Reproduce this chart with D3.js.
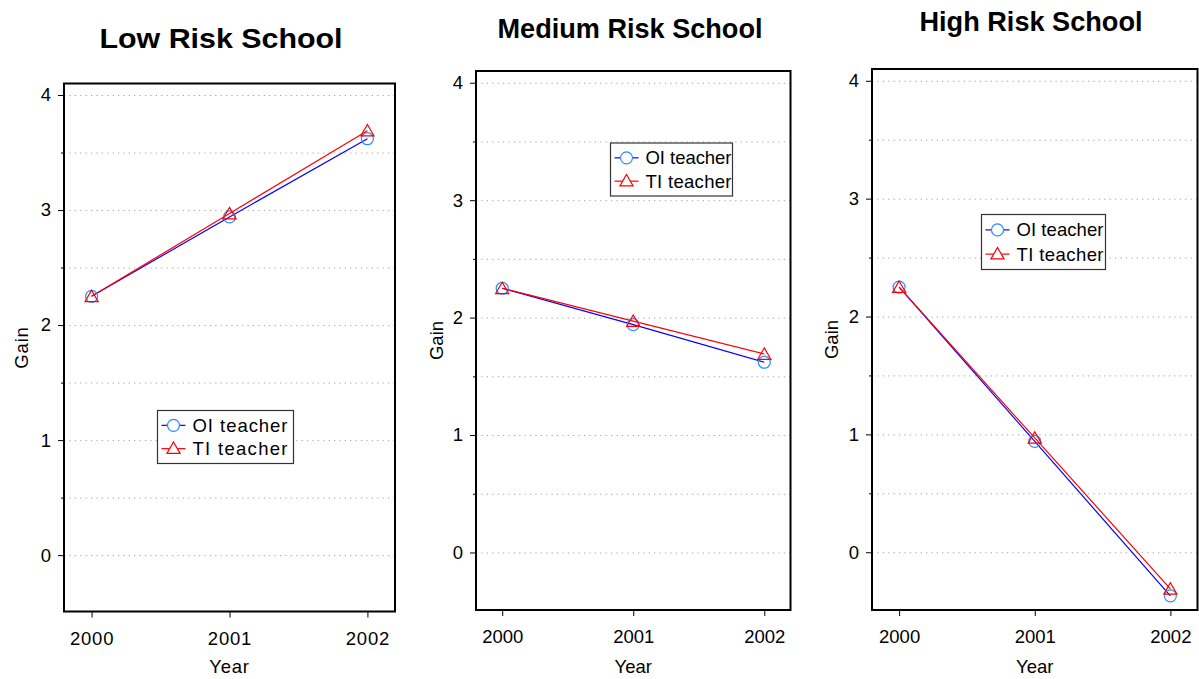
<!DOCTYPE html>
<html>
<head>
<meta charset="utf-8">
<script src="https://cdn.jsdelivr.net/npm/d3@7"></script>
<style>
  body { margin: 0; background: #fff; }
  svg { display: block; font-family: "Liberation Sans", Arial, sans-serif; }
</style>
</head>
<body>
<div id="chart"></div>
<script>
// data
const years = [2000, 2001, 2002];
const seriesNames = ["OI teacher", "TI teacher"];
const panelTitles = ["Low Risk School", "Medium Risk School", "High Risk School"];
const lowOI = [2.25, 2.94, 3.62];
const lowTI = [2.25, 2.97, 3.69];
const medOI = [2.25, 1.94, 1.62];
const medTI = [2.25, 1.97, 1.69];
const highOI = [2.25, 0.94, -0.37];
const highTI = [2.25, 0.97, -0.31];
const yTickValues = [0, 1, 2, 3, 4];
const yMinorValues = [0.5, 1.5, 2.5, 3.5];

// layout of the three panels (pixel boxes)
const panels = [
    { title: panelTitles[0], oi: lowOI, ti: lowTI,
      box: { x0: 64, y0: 83.5, x1: 395, y1: 611.5 },
      titleX: 221, titleY: 47.5, titleLen: 243, spacing: 0.8,
      gainX: 22, legend: { x: 157.5, y: 410.5, w: 136, h: 53 }, legendLen: 95 },
    { title: panelTitles[1], oi: medOI, ti: medTI,
      box: { x0: 476, y0: 71, x1: 790.5, y1: 610 },
      titleX: 630, titleY: 37.5, titleLen: 265, spacing: 0,
      gainX: 437, legend: { x: 610.5, y: 143, w: 122, h: 53 }, legendLen: 86 },
    { title: panelTitles[2], oi: highOI, ti: highTI,
      box: { x0: 872, y0: 69, x1: 1197.5, y1: 610 },
      titleX: 1031, titleY: 31, titleLen: 223, spacing: 0,
      gainX: 832, legend: { x: 981.5, y: 214.5, w: 124, h: 55 }, legendLen: 87 }
];

const blueLine = "#0000ff", blueMark = "#2e8bff", red = "#ff0000";
const fontSize = 18.5;

const svg = d3.select("#chart").append("svg")
    .attr("width", 1199).attr("height", 679);

const triangle = d3.symbol().type(d3.symbolTriangle).size(75);

panels.forEach(p => {
    const b = p.box;
    const g = svg.append("g");

    const x = d3.scaleLinear().domain([1999.8, 2002.2]).range([b.x0, b.x1]);
    const y = d3.scaleLinear().domain([-0.49, 4.1]).range([b.y1, b.y0]);

    // dotted grid lines every half unit
    g.append("g")
        .attr("transform", `translate(${b.x0},0)`)
        .call(d3.axisLeft(y).tickValues(yTickValues.concat(yMinorValues))
            .tickSize(-(b.x1 - b.x0)).tickFormat(""))
        .call(a => a.select(".domain").remove())
        .call(a => a.selectAll(".tick line")
            .attr("stroke", "#a0a0a0").attr("stroke-dasharray", "1.2,4.2"));

    // major y ticks
    const yAxis = g.append("g")
        .attr("transform", `translate(${b.x0},0)`)
        .call(d3.axisLeft(y).tickValues(yTickValues).tickSize(6).tickPadding(7)
            .tickFormat(d3.format("d")));
    yAxis.select(".domain").remove();
    yAxis.selectAll("text")
        .attr("font-size", fontSize).attr("fill", "#000")
        .attr("font-family", "Liberation Sans, Arial, sans-serif");

    // minor y ticks
    g.append("g")
        .attr("transform", `translate(${b.x0},0)`)
        .call(d3.axisLeft(y).tickValues(yMinorValues).tickSize(3).tickFormat(""))
        .call(a => a.select(".domain").remove());

    // x axis ticks under the frame
    const xAxis = g.append("g")
        .attr("transform", `translate(0,${b.y1})`)
        .call(d3.axisBottom(x).tickValues(years).tickSize(6).tickPadding(14)
            .tickFormat(d3.format("d")));
    xAxis.select(".domain").remove();
    xAxis.selectAll("text")
        .attr("font-size", fontSize).attr("fill", "#000")
        .attr("letter-spacing", p.spacing)
        .attr("font-family", "Liberation Sans, Arial, sans-serif");

    // frame
    g.append("rect")
        .attr("x", b.x0).attr("y", b.y0)
        .attr("width", b.x1 - b.x0).attr("height", b.y1 - b.y0)
        .attr("fill", "none").attr("stroke", "#000").attr("stroke-width", 2);

    // title
    g.append("text")
        .attr("x", p.titleX).attr("y", p.titleY)
        .attr("text-anchor", "middle")
        .attr("font-size", 28).attr("font-weight", "bold")
        .attr("textLength", p.titleLen).attr("lengthAdjust", "spacingAndGlyphs")
        .text(p.title);

    // axis titles
    g.append("text")
        .attr("x", (x(2000) + x(2002)) / 2).attr("y", 673)
        .attr("text-anchor", "middle").attr("font-size", fontSize)
        .attr("letter-spacing", p.spacing)
        .text("Year");
    g.append("text")
        .attr("transform", `translate(${p.gainX + 6},${(b.y0 + b.y1) / 2}) rotate(-90)`)
        .attr("text-anchor", "middle").attr("font-size", fontSize)
        .attr("letter-spacing", p.spacing)
        .text("Gain");

    // lines
    const line = d3.line().x((d, i) => x(years[i])).y(d => y(d));
    g.append("path").datum(p.oi).attr("d", line)
        .attr("fill", "none").attr("stroke", blueLine).attr("stroke-width", 1.2);
    g.append("path").datum(p.ti).attr("d", line)
        .attr("fill", "none").attr("stroke", red).attr("stroke-width", 1.2);

    // markers
    g.selectAll(".oi").data(p.oi).enter().append("circle")
        .attr("cx", (d, i) => x(years[i])).attr("cy", d => y(d)).attr("r", 6)
        .attr("fill", "none").attr("stroke", blueMark).attr("stroke-width", 1.2);
    g.selectAll(".ti").data(p.ti).enter().append("path")
        .attr("d", triangle)
        .attr("transform", (d, i) => `translate(${x(years[i])},${y(d) + 1.5})`)
        .attr("fill", "none").attr("stroke", red).attr("stroke-width", 1.2);

    // legend
    const L = p.legend;
    const lg = g.append("g").attr("transform", `translate(${L.x},${L.y})`);
    lg.append("rect").attr("width", L.w).attr("height", L.h)
        .attr("fill", "#fff").attr("stroke", "#333").attr("stroke-width", 1.2);
    const rowY = [L.h * 0.28, L.h * 0.72];
    seriesNames.forEach((name, i) => {
        const col = i === 0 ? blueMark : red;
        lg.append("line").attr("x1", 4).attr("x2", 28)
            .attr("y1", rowY[i]).attr("y2", rowY[i])
            .attr("stroke", i === 0 ? blueLine : red).attr("stroke-width", 1.2);
        if (i === 0) {
            lg.append("circle").attr("cx", 16).attr("cy", rowY[i]).attr("r", 6)
                .attr("fill", "#fff").attr("stroke", col).attr("stroke-width", 1.2);
        } else {
            lg.append("path").attr("d", triangle)
                .attr("transform", `translate(16,${rowY[i] + 1})`)
                .attr("fill", "#fff").attr("stroke", col).attr("stroke-width", 1.2);
        }
        lg.append("text").attr("x", 35).attr("y", rowY[i] + 6.5)
            .attr("font-size", fontSize)
            .attr("textLength", p.legendLen).attr("lengthAdjust", "spacing")
            .text(name);
    });
});
</script>
</body>
</html>
